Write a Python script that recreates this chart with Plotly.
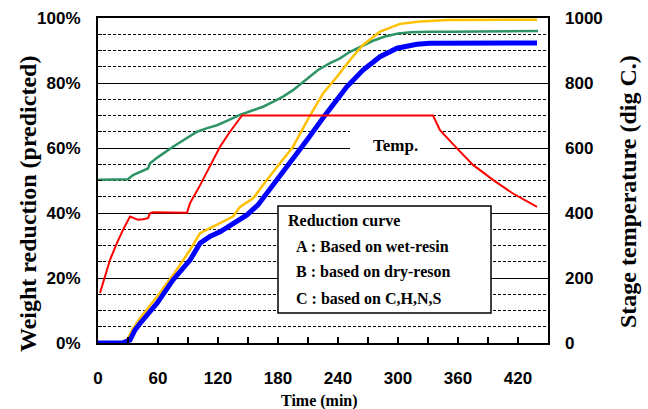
import plotly.graph_objects as go

# ---- data ----
time_A = [0, 24, 32, 37, 42, 59, 75, 92, 102, 112, 122, 135, 149, 160, 169, 182, 195, 209, 228, 249, 265, 282, 299, 319, 332, 360, 439]
wr_A = [0, 0, 0.9, 4, 6, 12.2, 19.4, 25.5, 30.7, 32.8, 34.2, 36.5, 39.4, 42.5, 46.1, 51.2, 56.3, 62.5, 70.5, 78.9, 84, 88.1, 90.7, 91.9, 92.2, 92.3, 92.3]

time_B = [0, 24, 30, 34, 42, 59, 75, 92, 102, 115, 135, 142, 155, 169, 182, 195, 212, 225, 239, 252, 265, 282, 302, 322, 350, 439]
wr_B = [0, 0, 1.4, 4, 7.6, 14.2, 20.9, 28.6, 33.8, 35.8, 38.9, 41.9, 44.5, 50.2, 55.3, 60.4, 70, 76.8, 81.9, 87.1, 91.7, 95.8, 98.2, 98.9, 99.4, 99.5]

time_C = [0, 30, 35, 50, 52, 60, 75, 90, 99, 110, 119, 130, 142, 155, 165, 175, 185, 195, 205, 220, 232, 242, 252, 263, 275, 287, 300, 313, 330, 353, 400, 440]
wr_C = [50.2, 50.4, 51.7, 53.7, 55.3, 57.2, 60.4, 63.2, 65, 66.2, 67, 68.5, 70.2, 71.6, 72.7, 74.2, 75.8, 77.8, 80.4, 84, 86.1, 87.6, 89.6, 91.2, 93, 94.3, 95.2, 95.6, 95.8, 95.8, 96, 96]

time_T = [2, 7, 12, 19, 25, 32, 37, 40, 45, 50, 52, 55, 89, 92, 102, 112, 122, 132, 144, 335, 342, 359, 375, 395, 415, 439]
temp_T = [154, 205, 256, 308, 348, 389, 384, 379, 381, 384, 399, 402, 401, 430, 485, 543, 604, 650, 700, 700, 655, 599, 548, 502, 460, 419]

x_ticks = [0, 60, 120, 180, 240, 300, 360, 420]
legend_title = "Reduction curve"
legend_lines = ["A : Based on wet-resin", "B : based on dry-reson", "C : based on C,H,N,S"]

SERIF = "Liberation Serif"
SANS = "Liberation Sans"

fig = go.Figure()
fig.add_trace(go.Scatter(x=time_C, y=[v / 100 for v in wr_C], mode="lines",
                         line=dict(color="#2E9466", width=2.5), name="C"))
fig.add_trace(go.Scatter(x=time_B, y=[v / 100 for v in wr_B], mode="lines",
                         line=dict(color="#FFC000", width=2.5), name="B"))
fig.add_trace(go.Scatter(x=time_A, y=[v / 100 for v in wr_A], mode="lines",
                         line=dict(color="#0000FF", width=5), name="A"))
fig.add_trace(go.Scatter(x=time_T, y=temp_T, mode="lines", yaxis="y2",
                         line=dict(color="#FF0000", width=2), name="Temp."))

fig.update_layout(
    width=648, height=409,
    margin=dict(l=98, r=100, t=18, b=66, autoexpand=False),
    paper_bgcolor="white", plot_bgcolor="white",
    showlegend=False,
    xaxis=dict(range=[0, 450], tickvals=x_ticks, ticks="inside", ticklen=6, tickwidth=1.5,
               tickcolor="black", showgrid=False, zeroline=False, automargin=False,
               showline=True, linecolor="black", linewidth=2, mirror=True,
               tickfont=dict(family=SANS, size=17, color="black", weight="bold"),
               ticklabelstandoff=19,
               minor=dict(dtick=30, tick0=0, ticks="inside", ticklen=6, tickwidth=1.5, tickcolor="black")),
    yaxis=dict(range=[0, 1], dtick=0.2, tickformat=".0%", ticks="inside", ticklen=4,
               tickcolor="black", showgrid=True, gridcolor="black", gridwidth=1, automargin=False,
               zeroline=False, showline=True, linecolor="black", linewidth=2, mirror=True,
               tickfont=dict(family=SANS, size=17, color="black", weight="bold"),
               ticklabelstandoff=12,
               minor=dict(dtick=0.05, tick0=0, showgrid=True, gridcolor="black", gridwidth=1,
                          griddash="3px,2px", ticks="inside", ticklen=4, tickcolor="black")),
    yaxis2=dict(range=[0, 1000], dtick=200, overlaying="y", side="right", showgrid=False,
                zeroline=False, ticks="", showline=False, automargin=False,
                tickfont=dict(family=SANS, size=17, color="black", weight="bold"),
                ticklabelstandoff=16),
)

# white patch behind "Temp." label and legend box (between gridlines and traces)
fig.add_shape(type="rect", xref="x", yref="y", x0=252, x1=342, y0=0.585, y1=0.67,
              fillcolor="white", line=dict(width=0), layer="between")
fig.add_shape(type="rect", xref="x", yref="y", x0=180, x1=393, y0=0.092, y1=0.4215,
              fillcolor="white", line=dict(color="black", width=1.5), layer="between")

fig.add_annotation(x=297, y=0.609, xref="x", yref="y", text="Temp.", showarrow=False,
                   xanchor="center", yanchor="middle",
                   font=dict(family=SERIF, size=17, color="black", weight="bold"))

fig.add_annotation(x=188, y=(343 - 220) / 325, xref="x", yref="y", text=legend_title,
                   showarrow=False, xanchor="left", yanchor="middle",
                   font=dict(family=SERIF, size=16, color="black", weight="bold"))
for txt, py in zip(legend_lines, [246, 272, 298]):
    fig.add_annotation(x=196, y=(343 - py) / 325, xref="x", yref="y", text=txt,
                       showarrow=False, xanchor="left", yanchor="middle",
                       font=dict(family=SERIF, size=16, color="black", weight="bold"))

fig.add_annotation(x=(28 - 98) / 450, y=(343 - 204) / 325, xref="paper", yref="paper",
                   text="Weight reduction (predicted)", textangle=-90, showarrow=False,
                   xanchor="center", yanchor="middle",
                   font=dict(family=SERIF, size=24, color="black", weight="bold"))
fig.add_annotation(x=(628 - 98) / 450, y=(343 - 192) / 325, xref="paper", yref="paper",
                   text="Stage temperature (dig C.)", textangle=-90, showarrow=False,
                   xanchor="center", yanchor="middle",
                   font=dict(family=SERIF, size=24, color="black", weight="bold"))
fig.add_annotation(x=(319 - 98) / 450, y=(343 - 401) / 325, xref="paper", yref="paper",
                   text="Time (min)", showarrow=False, xanchor="center", yanchor="middle",
                   font=dict(family=SERIF, size=16, color="black", weight="bold"))

fig.write_html("out.html", config={"displayModeBar": False},
               post_script="document.body.style.margin='0px';")
